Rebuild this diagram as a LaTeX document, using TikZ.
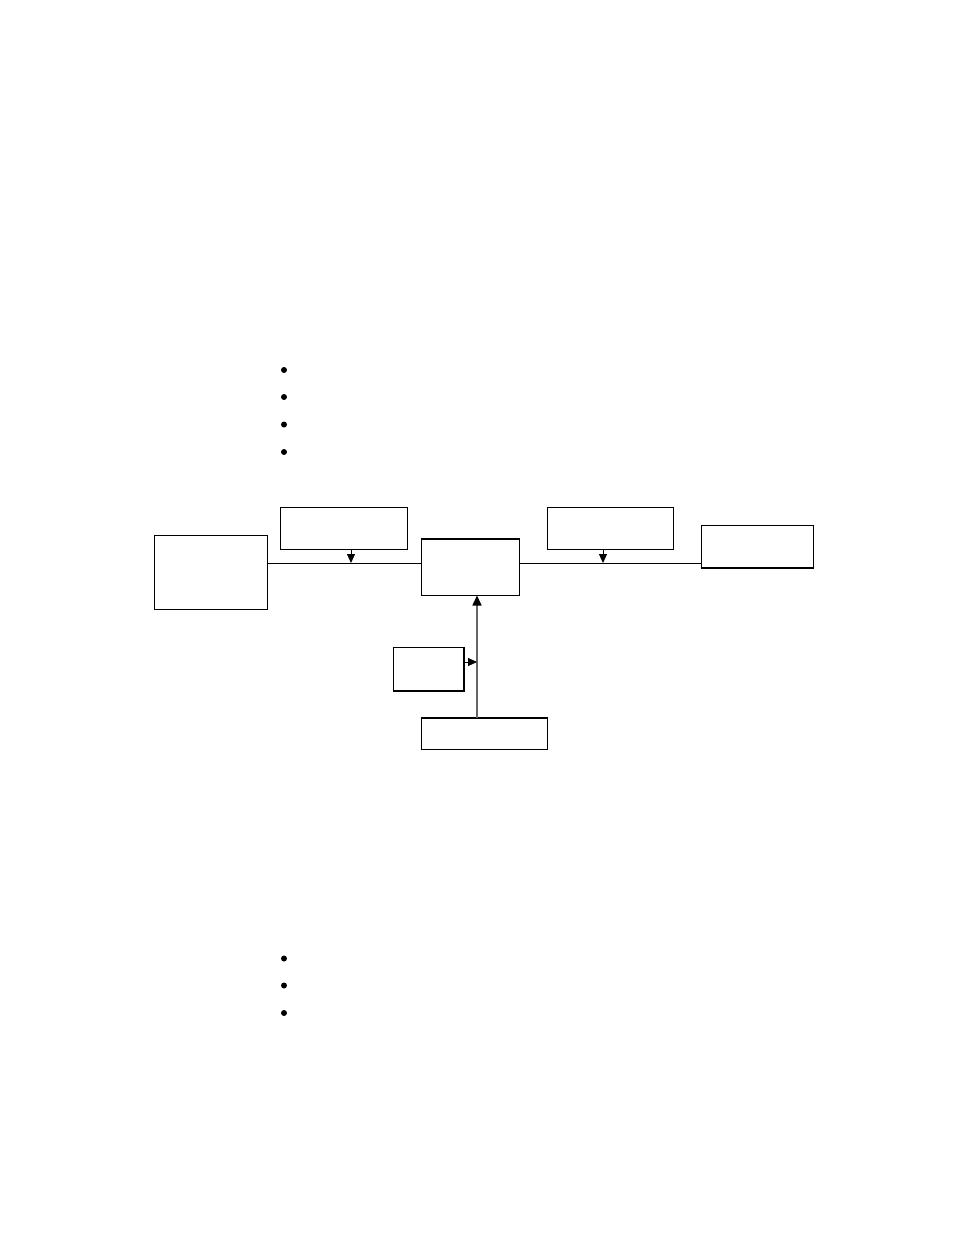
\documentclass[tikz,border=0pt]{standalone}
\usetikzlibrary{arrows.meta}
\begin{document}
\begin{tikzpicture}[x=1pt,y=-1pt,
  box/.style={draw=black,line width=1pt,inner sep=0pt,rectangle,fill=white},
  conn/.style={draw=black,line width=1pt},
  arr/.style={draw=black,line width=1pt,-{Triangle[length=9pt,width=8pt]}},
  garr/.style={draw=black!60,line width=1.6pt,-{Triangle[length=10pt,width=9pt,fill=black,color=black]}},
  dot/.style={circle,fill=black,inner sep=0pt,minimum size=6pt},
  heavy/.style={line width=2pt,line cap=butt}]
\useasboundingbox[fill=white] (0,0) rectangle (954,1235);
% bullets
\node[dot] (b1) at (284,370) {};
\node[dot] (b2) at (284,397) {};
\node[dot] (b3) at (284,424.5) {};
\node[dot] (b4) at (284,452) {};
\node[dot] (b5) at (284,958.5) {};
\node[dot] (b6) at (284,985.5) {};
\node[dot] (b7) at (284,1013) {};
% boxes
\node[box,minimum width=113pt,minimum height=74pt] (src) at (210.5,572) {};
\node[box,minimum width=127pt,minimum height=42pt] (top1) at (343.5,528) {};
\node[box,minimum width=98pt,minimum height=56pt] (mid) at (470,567) {};
\node[box,minimum width=126pt,minimum height=42pt] (top2) at (610,528) {};
\node[box,minimum width=112pt,minimum height=42pt] (rgt) at (757,546) {};
\node[box,minimum width=70pt,minimum height=43pt] (small) at (428,668.5) {};
\node[box,minimum width=126pt,minimum height=31pt] (bot) at (484,733.5) {};
% heavier edges
\draw[heavy] (small.north east) -- (small.south east) -- (small.south west);
\draw[heavy] (rgt.south west) -- (rgt.south east);
\draw[heavy] (mid.north west) -- (mid.north east);
\draw[heavy] (bot.north west) -- (bot.north east);
% helper coordinates
\coordinate (h) at (0,563);
\coordinate (j1) at (351,563);
\coordinate (j2) at (603,563);
\coordinate (v) at (477,0);
\coordinate (j3) at (477,662);
% connectors
\draw[conn] (src.east |- h) -- (mid.west |- h);
\draw[conn] (mid.east |- h) -- (rgt.west |- h);
\draw[arr] (top1.south -| j1) -- (j1);
\draw[arr] (top2.south -| j2) -- (j2);
\draw[garr] (bot.north -| v) -- (mid.south -| v);
\draw[arr] (small.east |- j3) -- (j3);
\end{tikzpicture}
\end{document}
